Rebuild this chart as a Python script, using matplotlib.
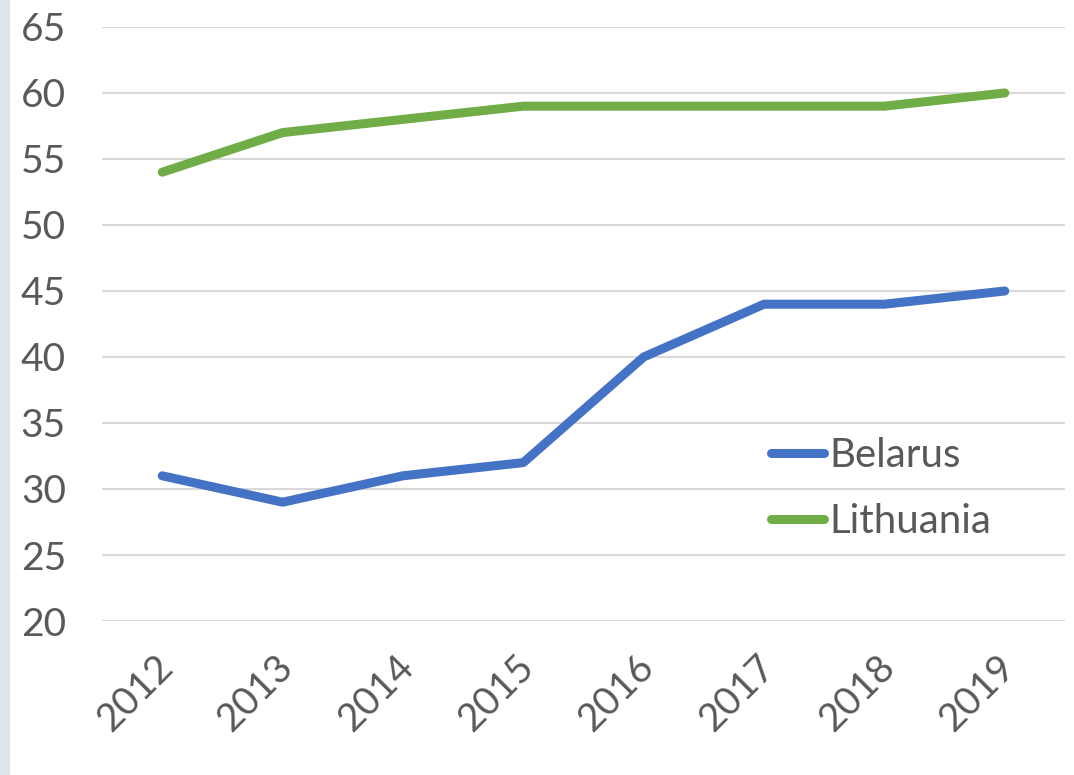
import numpy as np
import matplotlib.pyplot as plt
from matplotlib.patches import Rectangle
from matplotlib.transforms import ScaledTranslation

# data
years = ['2012', '2013', '2014', '2015', '2016', '2017', '2018', '2019']
belarus = [31, 29, 31, 32, 40, 44, 44, 45]
lithuania = [54, 57, 58, 59, 59, 59, 59, 60]

plt.rcParams['font.family'] = ['Lato', 'DejaVu Sans']
text_col = '#595959'

fig = plt.figure(figsize=(10.74, 7.75), dpi=100)
ax = fig.add_axes([0.095, 0.1987, 0.8966, 0.7665])

# textured strip on the left edge of the picture
fig.patches.append(Rectangle((0, 0), 0.009, 1, transform=fig.transFigure,
                             facecolor='#dde4ec', edgecolor='none', zorder=0))

x = np.arange(len(years))
ax.plot(x, belarus, color='#4472C4', linewidth=6.5, solid_capstyle='round',
        solid_joinstyle='round', label='Belarus')
ax.plot(x, lithuania, color='#70AD47', linewidth=6.5, solid_capstyle='round',
        solid_joinstyle='round', label='Lithuania')

ax.set_xlim(-0.5, len(years) - 0.5)
ax.set_ylim(20, 65)
ax.set_yticks(np.arange(20, 66, 5))
ax.set_xticks(x)
ax.set_xticklabels(years, rotation=45, ha='right', rotation_mode='anchor')
ax.tick_params(axis='both', length=0, labelsize=28, colors=text_col)
ax.tick_params(axis='y', pad=26)
ax.tick_params(axis='x', pad=20)
# nudge the year labels a little to the left
shift = ScaledTranslation(-8 / 100, 0, fig.dpi_scale_trans)
for lab in ax.get_xticklabels():
    lab.set_transform(lab.get_transform() + shift)
ax.grid(axis='y', color='#D9D9D9', linewidth=1.5)
ax.set_axisbelow(True)
for s in ax.spines.values():
    s.set_visible(False)

leg = ax.legend(loc='upper left', bbox_to_anchor=(0.674, 0.344), frameon=False,
                fontsize=29, handlelength=1.3, handletextpad=0.15,
                labelspacing=0.72, borderpad=0)
for t in leg.get_texts():
    t.set_color(text_col)

plt.savefig('out.png', dpi=100)
